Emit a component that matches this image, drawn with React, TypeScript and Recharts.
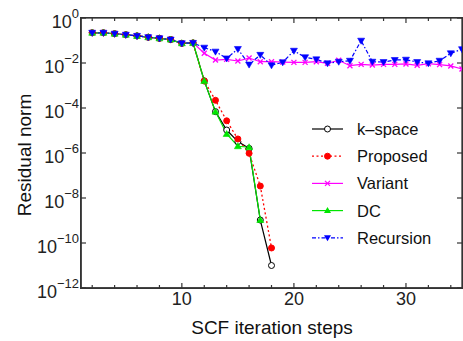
import React from 'react';
import { LineChart, Line, XAxis, YAxis, Legend } from 'recharts';

const steps = [2, 3, 4, 5, 6, 7, 8, 9, 10, 11, 12, 13, 14, 15, 16, 17, 18, 19, 20, 21, 22, 23, 24, 25, 26, 27, 28, 29, 30, 31, 32, 33, 34, 35];

const kspace = [0.22, 0.22, 0.2, 0.18, 0.16, 0.14, 0.125, 0.11, 0.075, 0.078, 1.6e-3, 6.9e-5, 1.05e-5, 3.2e-6, 1.6e-6, 1.05e-9, 1e-11];
const proposed = [0.22, 0.22, 0.2, 0.18, 0.16, 0.14, 0.125, 0.11, 0.075, 0.078, 1.6e-3, 2.2e-4, 2.7e-5, 4.2e-6, 9.7e-7, 3.4e-8, 6e-11];
const variant = [0.22, 0.22, 0.2, 0.18, 0.16, 0.14, 0.125, 0.11, 0.075, 0.078, 0.027, 0.0135, 0.0145, 0.0123, 0.0166, 0.0114, 0.0114, 0.011, 0.0107, 0.0107, 0.0114, 0.0097, 0.0132, 0.0076, 0.0087, 0.0081, 0.0087, 0.0087, 0.0091, 0.0079, 0.0093, 0.0085, 0.0074, 0.0054];
const dc = [0.22, 0.22, 0.2, 0.18, 0.16, 0.14, 0.125, 0.11, 0.075, 0.078, 1.6e-3, 6.9e-5, 7e-6, 2e-6, 1.8e-6, 1.05e-9];
const recursion = [0.22, 0.22, 0.2, 0.18, 0.16, 0.14, 0.125, 0.11, 0.075, 0.078, 0.048, 0.032, 0.016, 0.042, 0.0085, 0.023, 0.0079, 0.0107, 0.035, 0.018, 0.0145, 0.0097, 0.0114, 0.0126, 0.098, 0.0114, 0.011, 0.0136, 0.014, 0.011, 0.0097, 0.0126, 0.027, 0.041];

const xTicks = [2, 4, 6, 8, 10, 12, 14, 16, 18, 20, 22, 24, 26, 28, 30, 32, 34];
const xLabelTicks = [10, 20, 30];
const yTicks = [1e-12, 1e-10, 1e-8, 1e-6, 1e-4, 1e-2, 1];
const yExponents = ['−12', '−10', '−8', '−6', '−4', '−2', '0'];

const data = steps.map((s, i) => ({
  step: s,
  kspace: i < kspace.length ? kspace[i] : null,
  proposed: i < proposed.length ? proposed[i] : null,
  variant: i < variant.length ? variant[i] : null,
  dc: i < dc.length ? dc[i] : null,
  recursion: i < recursion.length ? recursion[i] : null,
}));

const FONT = '"Liberation Sans", Arial, Helvetica, sans-serif';
const AXIS = '#333333';
const RED = '#ff0000';
const MAGENTA = '#ff00ff';
const GREEN = '#00e600';
const BLUE = '#0000ff';

const W = 463;
const H = 341;
const MARGIN = { top: 18, right: 1, bottom: 0, left: 0 };
const X_AXIS_H = 53;
const Y_AXIS_W = 81;
const PLOT_LEFT = MARGIN.left + Y_AXIS_W;
const PLOT_TOP = MARGIN.top;
const PLOT_RIGHT = W - MARGIN.right;
const PLOT_BOTTOM = H - MARGIN.bottom - X_AXIS_H;

const BottomTick = (props: any) => {
  const { x, y, payload } = props;
  const v = payload.value;
  const major = xLabelTicks.includes(v);
  const len = major ? 5 : 3;
  return (
    <g>
      <line x1={x} x2={x} y1={y} y2={y - len} stroke={AXIS} strokeWidth={1.2} />
      <line x1={x} x2={x} y1={PLOT_TOP} y2={PLOT_TOP + len} stroke={AXIS} strokeWidth={1.2} />
      {major && (
        <text x={x} y={y + 17} textAnchor="middle" fontSize={18} fill="#222" fontFamily={FONT}>
          {v}
        </text>
      )}
    </g>
  );
};

const LeftTick = (props: any) => {
  const { x, y, payload } = props;
  const idx = yTicks.findIndex((t) => Math.abs(Math.log10(t) - Math.log10(payload.value)) < 1e-6);
  const exp = idx >= 0 ? yExponents[idx] : '';
  return (
    <g>
      <line x1={x} x2={x + 5} y1={y} y2={y} stroke={AXIS} strokeWidth={1.2} />
      <line x1={PLOT_RIGHT} x2={PLOT_RIGHT - 5} y1={y} y2={y} stroke={AXIS} strokeWidth={1.2} />
      <text x={x - 2} y={y + 10} textAnchor="end" fontFamily={FONT} fill="#222">
        <tspan fontSize={18}>10</tspan>
        <tspan fontSize={13} dy={-10}>{exp}</tspan>
      </text>
    </g>
  );
};

const mkCircle = (fill: string, stroke: string) => (props: any) => {
  const { cx, cy, index, value } = props;
  if (value == null || cx == null || cy == null) return <g key={`d-${index}`} />;
  return <circle key={`d-${index}`} cx={cx} cy={cy} r={3} fill={fill} stroke={stroke} strokeWidth={1} />;
};

const crossDot = (props: any) => {
  const { cx, cy, index, value } = props;
  if (value == null || cx == null || cy == null) return <g key={`d-${index}`} />;
  const s = 2.5;
  return (
    <g key={`d-${index}`} stroke={MAGENTA} strokeWidth={1.3}>
      <line x1={cx - s} y1={cy - s} x2={cx + s} y2={cy + s} />
      <line x1={cx - s} y1={cy + s} x2={cx + s} y2={cy - s} />
    </g>
  );
};

const triUp = (props: any) => {
  const { cx, cy, index, value } = props;
  if (value == null || cx == null || cy == null) return <g key={`d-${index}`} />;
  return (
    <polygon key={`d-${index}`} points={`${cx},${cy - 3.5} ${cx - 3.5},${cy + 2.5} ${cx + 3.5},${cy + 2.5}`} fill={GREEN} stroke={GREEN} strokeWidth={0.6} />
  );
};

const triDown = (props: any) => {
  const { cx, cy, index, value } = props;
  if (value == null || cx == null || cy == null) return <g key={`d-${index}`} />;
  return (
    <polygon key={`d-${index}`} points={`${cx},${cy + 3.5} ${cx - 3.5},${cy - 2.5} ${cx + 3.5},${cy - 2.5}`} fill={BLUE} stroke={BLUE} strokeWidth={0.6} />
  );
};

const legendItems = [
  { name: 'k\u2013space', color: '#000000', dash: undefined as string | undefined, marker: 'circleOpen' },
  { name: 'Proposed', color: RED, dash: '2 2.5', marker: 'circle' },
  { name: 'Variant', color: MAGENTA, dash: undefined, marker: 'cross' },
  { name: 'DC', color: GREEN, dash: undefined, marker: 'triUp' },
  { name: 'Recursion', color: BLUE, dash: '4 2 1.5 2', marker: 'triDown' },
];

const LegendMarker = ({ kind, color, x, y }: { kind: string; color: string; x: number; y: number }) => {
  if (kind === 'circleOpen') return <circle cx={x} cy={y} r={3} fill="#fff" stroke={color} strokeWidth={1} />;
  if (kind === 'circle') return <circle cx={x} cy={y} r={3} fill={color} stroke={color} />;
  if (kind === 'cross')
    return (
      <g stroke={color} strokeWidth={1.3}>
        <line x1={x - 2.5} y1={y - 2.5} x2={x + 2.5} y2={y + 2.5} />
        <line x1={x - 2.5} y1={y + 2.5} x2={x + 2.5} y2={y - 2.5} />
      </g>
    );
  if (kind === 'triUp') return <polygon points={`${x},${y - 3.5} ${x - 3.5},${y + 2.5} ${x + 3.5},${y + 2.5}`} fill={color} />;
  return <polygon points={`${x},${y + 3.5} ${x - 3.5},${y - 2.5} ${x + 3.5},${y - 2.5}`} fill={color} />;
};

const renderLegend = () => (
  <svg width={160} height={140} style={{ display: 'block' }}>
    {legendItems.map((it, i) => {
      const y = 17 + i * 27.2;
      return (
        <g key={it.name}>
          <line x1={12} x2={43} y1={y} y2={y} stroke={it.color} strokeWidth={1.2} strokeDasharray={it.dash} />
          <LegendMarker kind={it.marker} color={it.color} x={27.5} y={y} />
          <text x={57} y={y + 6} fontSize={16.5} fontFamily={FONT} fill="#111">
            {it.name}
          </text>
        </g>
      );
    })}
  </svg>
);

export default function App() {
  return (
    <div style={{ position: 'absolute', left: 0, top: 0, width: W, height: H, background: '#fff' }}>
      <LineChart width={W} height={H} data={data} margin={MARGIN} style={{ fontFamily: FONT }}>
        <rect
          x={PLOT_LEFT}
          y={PLOT_TOP}
          width={PLOT_RIGHT - PLOT_LEFT}
          height={PLOT_BOTTOM - PLOT_TOP}
          fill="none"
          stroke={AXIS}
          strokeWidth={1.3}
        />
        <XAxis
          dataKey="step"
          type="number"
          domain={[1, 35]}
          allowDataOverflow
          ticks={xTicks}
          interval={0}
          height={X_AXIS_H}
          tickSize={0}
          tickMargin={0}
          tickLine={false}
          tick={<BottomTick />}
          axisLine={{ stroke: AXIS, strokeWidth: 1.3 }}
        />
        <YAxis
          scale="log"
          type="number"
          domain={[1e-12, 1]}
          allowDataOverflow
          ticks={yTicks}
          interval={0}
          width={Y_AXIS_W}
          tickSize={0}
          tickMargin={0}
          tickLine={false}
          tick={<LeftTick />}
          axisLine={{ stroke: AXIS, strokeWidth: 1.3 }}
        />
        <text
          x={24}
          y={155}
          transform="rotate(-90 24 155)"
          textAnchor="middle"
          dominantBaseline="central"
          fontSize={19}
          fontFamily={FONT}
          fill="#111"
        >
          Residual norm
        </text>
        <text x={272} y={334} textAnchor="middle" fontSize={19} fontFamily={FONT} fill="#111">
          SCF iteration steps
        </text>
        <Line dataKey="kspace" name="k–space" stroke="#000" strokeWidth={1.2} dot={mkCircle('#fff', '#000')} isAnimationActive={false} />
        <Line dataKey="proposed" name="Proposed" stroke={RED} strokeWidth={1.3} strokeDasharray="2 2.5" dot={mkCircle(RED, RED)} isAnimationActive={false} />
        <Line dataKey="variant" name="Variant" stroke={MAGENTA} strokeWidth={1.2} dot={crossDot} isAnimationActive={false} />
        <Line dataKey="dc" name="DC" stroke={GREEN} strokeWidth={1.2} dot={triUp} isAnimationActive={false} />
        <Line dataKey="recursion" name="Recursion" stroke={BLUE} strokeWidth={1.2} strokeDasharray="4 2 1.5 2" dot={triDown} isAnimationActive={false} />
        <Legend
          layout="vertical"
          align="center"
          verticalAlign="middle"
          content={renderLegend}
          wrapperStyle={{ position: 'absolute', left: 300, top: 112, width: 160, height: 140 }}
        />
      </LineChart>
      <div
        style={{
          position: 'absolute',
          left: PLOT_LEFT - 1,
          top: PLOT_TOP - 1,
          width: PLOT_RIGHT - PLOT_LEFT,
          height: PLOT_BOTTOM - PLOT_TOP,
          border: '1px solid #333333',
          pointerEvents: 'none',
        }}
      />
    </div>
  );
}
